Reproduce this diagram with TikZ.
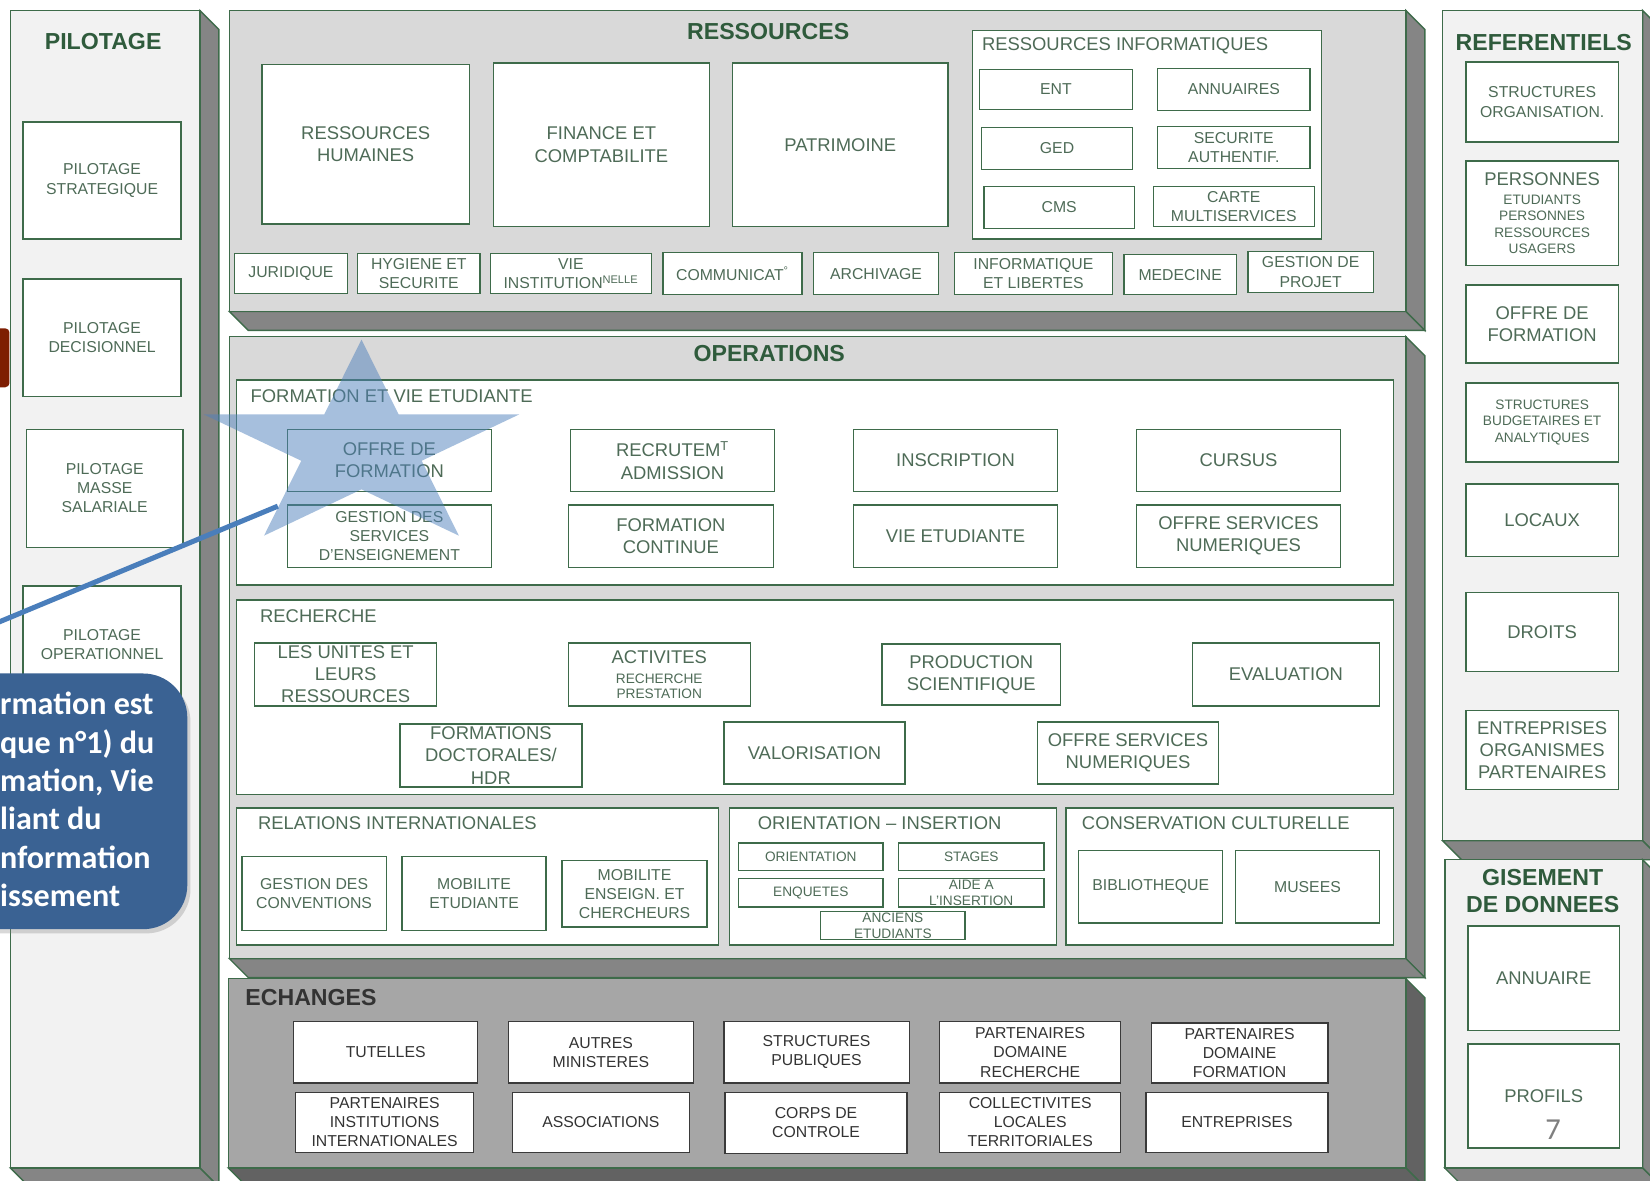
\documentclass[tikz,border=0pt]{standalone}
\usepackage{fontspec}
\setmainfont{Liberation Sans}
\newfontfamily\bullefont{Carlito}
\usetikzlibrary{fit,shapes.geometric,shadows}

\definecolor{vert}{HTML}{3E6B4A}
\definecolor{titrevert}{HTML}{2F5B3C}
\definecolor{texte}{HTML}{4E6B57}
\definecolor{gclair}{HTML}{F2F2F2}
\definecolor{gmoyen}{HTML}{D9D9D9}
\definecolor{gech}{HTML}{A6A6A6}
\definecolor{flanc}{HTML}{858585}
\definecolor{flancE}{HTML}{626262}
\definecolor{bordech}{HTML}{3A3A3A}
\definecolor{texteech}{HTML}{333333}
\definecolor{bleu}{HTML}{4F81BD}
\definecolor{bleutrait}{HTML}{4A7EBB}
\definecolor{bleubulle}{HTML}{3A6293}
\definecolor{rouge}{HTML}{7E1E02}
\definecolor{numgris}{HTML}{7F7F7F}

\newcommand{\grand}{\fontsize{17.5}{21}\selectfont}
\newcommand{\moyen}{\fontsize{15}{18.3}\selectfont}
\newcommand{\petit}{\fontsize{13}{15.6}\selectfont}
\newcommand{\gras}{\fontsize{22}{26}\selectfont\bfseries}

\tikzset{
  cadre/.style={draw=vert, line width=1.3pt},
  bloc/.style={cadre, fill=white, inner sep=0pt},
  txt/.style={text=texte, align=center, inner sep=0pt, font=\moyen},
  titre/.style={text=titrevert, align=center, inner sep=0pt, font=\gras},
  soustitre/.style={text=texte, anchor=west, inner sep=0pt, font=\grand},
  bulletxt/.style={text=white, anchor=base west, inner sep=0pt, font=\bullefont\bfseries\fontsize{30.5}{36}\selectfont},
}

\newcommand{\Plateau}[7]{%
  \filldraw[cadre,fill=#7] (#4,#3) -- ({#4+18},{#3+18}) -- ({#4+18},{#5+18}) -- (#4,#5) -- cycle;
  \filldraw[cadre,fill=#7] (#2,#5) -- ({#2+18},{#5+18}) -- ({#4+18},{#5+18}) -- (#4,#5) -- cycle;
  \node[cadre,fill=#6,inner sep=0pt,fit={(#2,#3) (#4,#5)}] (#1) {};}
\newcommand{\Bloc}[5][]{\node[bloc,fit={(#3) (#4)},label={[txt,#1]center:{#5}}] (#2) {};}
\newcommand{\BlocE}[4]{\node[bloc,draw=bordech,fit={(#2) (#3)},label={[txt,text=texteech]center:{#4}}] (#1) {};}

\begin{document}
\begin{tikzpicture}[x=1pt,y=-1pt]
        \useasboundingbox (0,0) rectangle (1568,1122);
        \clip (0,0) rectangle (1568,1122);
        \fill[white] (0,0) rectangle (1568,1122);

        \Plateau{pilot}{10}{10}{190}{1110}{gclair}{flanc}
        \Plateau{ress}{218}{10}{1336}{296}{gmoyen}{flanc}
        \Plateau{ops}{218}{320}{1336}{911}{gmoyen}{flanc}
        \Plateau{echg}{217}{930}{1336}{1110}{gech}{flancE}
        \Plateau{refs}{1371}{10}{1561}{799}{gclair}{flanc}
        \Plateau{gis}{1373}{817}{1561}{1110}{gclair}{flanc}

        % pilotage
        \node[titre] (tpilot) at (98,39) {PILOTAGE};
        \Bloc{strat}{22,116}{172,227}{PILOTAGE\\STRATEGIQUE}
        \Bloc{decis}{22,265}{172,377}{PILOTAGE\\DECISIONNEL}
        \Bloc{masse}{25,408}{174,520}{PILOTAGE\\MASSE\\SALARIALE}
        \Bloc{opera}{22,557}{172,668}{PILOTAGE\\OPERATIONNEL}

        % ressources
        \node[titre] (tress) at (730,30) {RESSOURCES};
        \Bloc[font=\grand]{rh}{249,61}{446,213}{RESSOURCES\\HUMAINES}
        \Bloc[font=\grand]{fin}{469,60}{674,215}{FINANCE ET\\COMPTABILITE}
        \Bloc[font=\grand]{pat}{696,60}{901,215}{PATRIMOINE}
        \node[bloc,fit={(924,29) (1256,227)}] (rinf) {};
        \node[soustitre] (trinf) at (933,44) {RESSOURCES INFORMATIQUES};
        \Bloc{ent}{931,66}{1076,104}{ENT}
        \Bloc{annu}{1100,65}{1245,105}{ANNUAIRES}
        \Bloc{ged}{933,121}{1076,161}{GED}
        \Bloc{secu}{1100,120}{1245,160}{SECURITE\\AUTHENTIF.}
        \Bloc{cms}{935,177}{1078,217}{CMS}
        \Bloc{carte}{1096,177}{1249,215}{CARTE\\MULTISERVICES}
        \Bloc{jur}{223,241}{330,279}{JURIDIQUE}
        \Bloc{hyg}{340,241}{456,279}{HYGIENE ET\\SECURITE}
        \Bloc{vinst}{466,241}{619,279}{VIE\\INSTITUTION\textsuperscript{NELLE}}
        \Bloc{comm}{630,240}{762,280}{COMMUNICAT\textsuperscript{°}}
        \Bloc{arch}{773,240}{892,280}{ARCHIVAGE}
        \Bloc{infl}{907,240}{1057,280}{INFORMATIQUE\\ET LIBERTES}
        \Bloc{med}{1068,242}{1175,280}{MEDECINE}
        \Bloc{proj}{1186,239}{1305,278}{GESTION DE\\PROJET}

        % operations
        \node[titre] (tops) at (731,336) {OPERATIONS};
        \node[bloc,fit={(225,361) (1324,556)}] (fve) {};
        \node[soustitre] (tfve) at (238,376) {FORMATION ET VIE ETUDIANTE};
        \Bloc[font=\grand]{offre}{273,408}{467,467}{OFFRE DE\\FORMATION}
        \Bloc[font=\grand]{recr}{542,408}{736,467}{RECRUTEM\textsuperscript{T}\\ADMISSION}
        \Bloc[font=\grand]{insc}{811,408}{1005,467}{INSCRIPTION}
        \Bloc[font=\grand]{cursus}{1080,408}{1274,467}{CURSUS}
        \Bloc{gss}{273,480}{467,539}{GESTION DES\\SERVICES\\D'ENSEIGNEMENT}
        \Bloc[font=\grand]{fcont}{540,480}{735,539}{FORMATION\\CONTINUE}
        \Bloc[font=\grand]{viee}{811,480}{1005,539}{VIE ETUDIANTE}
        \Bloc[font=\grand]{osn}{1080,480}{1274,539}{OFFRE SERVICES\\NUMERIQUES}

        \node[bloc,fit={(225,570) (1324,755)}] (rech) {};
        \node[soustitre] (trech) at (247,586) {RECHERCHE};
        \Bloc[font=\grand]{unites}{242,611}{415,671}{LES UNITES ET\\LEURS\\RESSOURCES}
        \Bloc[font=\grand]{activ}{540,611}{713,671}{ACTIVITES\\[-2pt]\petit RECHERCHE\\[-6pt]\petit PRESTATION}
        \Bloc[font=\grand]{prod}{838,612}{1008,670}{PRODUCTION\\SCIENTIFIQUE}
        \Bloc[font=\grand]{evalu}{1133,611}{1311,671}{EVALUATION}
        \Bloc[font=\grand]{fdoc}{380,688}{553,748}{FORMATIONS\\DOCTORALES/\\HDR}
        \Bloc[font=\grand]{valo}{688,686}{860,745}{VALORISATION}
        \Bloc[font=\grand]{osnr}{986,686}{1158,745}{OFFRE SERVICES\\NUMERIQUES}

        \node[bloc,fit={(225,768) (683,898)}] (relint) {};
        \node[soustitre] (trelint) at (245,782) {RELATIONS INTERNATIONALES};
        \Bloc{conv}{230,814}{367,884}{GESTION DES\\CONVENTIONS}
        \Bloc{mobe}{382,814}{519,884}{MOBILITE\\ETUDIANTE}
        \Bloc{mobc}{534,818}{672,881}{MOBILITE\\ENSEIGN. ET\\CHERCHEURS}

        \node[bloc,fit={(693,768) (1004,898)}] (orins) {};
        \node[soustitre] (torins) at (720,782) {ORIENTATION – INSERTION};
        \Bloc[font=\petit]{orient}{702,801}{839,827}{ORIENTATION}
        \Bloc[font=\petit]{stages}{854,801}{992,827}{STAGES}
        \Bloc[font=\petit]{enq}{702,835}{839,862}{ENQUETES}
        \Bloc[font=\petit]{aide}{854,835}{992,862}{AIDE A\\L'INSERTION}
        \Bloc[font=\petit]{anciens}{780,866}{917,893}{ANCIENS\\ETUDIANTS}

        \node[bloc,fit={(1013,768) (1324,898)}] (cons) {};
        \node[soustitre] (tcons) at (1028,782) {CONSERVATION CULTURELLE};
        \Bloc{biblio}{1025,808}{1162,877}{BIBLIOTHEQUE}
        \Bloc{musees}{1174,808}{1311,877}{MUSEES}

        % echanges
        \node[titre,text=texteech,anchor=west] (techg) at (233,948) {ECHANGES};
        \BlocE{tut}{279,971}{454,1029}{TUTELLES}
        \BlocE{autres}{483,971}{659,1029}{AUTRES\\MINISTERES}
        \BlocE{spub}{688,971}{864,1029}{STRUCTURES\\PUBLIQUES}
        \BlocE{pdr}{893,971}{1065,1029}{PARTENAIRES\\DOMAINE\\RECHERCHE}
        \BlocE{pdf}{1094,972}{1262,1029}{PARTENAIRES\\DOMAINE\\FORMATION}
        \BlocE{pii}{281,1038}{450,1095}{PARTENAIRES\\INSTITUTIONS\\INTERNATIONALES}
        \BlocE{assoc}{487,1038}{655,1095}{ASSOCIATIONS}
        \BlocE{corps}{689,1038}{862,1096}{CORPS DE\\CONTROLE}
        \BlocE{coll}{893,1038}{1065,1095}{COLLECTIVITES\\LOCALES\\TERRITORIALES}
        \BlocE{entr}{1089,1038}{1262,1095}{ENTREPRISES}

        % referentiels
        \node[titre] (trefs) at (1467,40) {REFERENTIELS};
        \Bloc{sorg}{1393,59}{1538,135}{STRUCTURES\\ORGANISATION.}
        \Bloc[font=\grand]{pers}{1393,153}{1538,252}{PERSONNES\\[-3pt]\petit ETUDIANTS\\[-5.3pt]\petit PERSONNES\\[-5.3pt]\petit RESSOURCES\\[-5.3pt]\petit USAGERS}
        \Bloc[font=\grand]{offref}{1393,271}{1538,345}{OFFRE DE\\FORMATION}
        \Bloc[font=\petit]{sbud}{1393,364}{1538,439}{STRUCTURES\\BUDGETAIRES ET\\ANALYTIQUES}
        \Bloc[font=\grand]{locaux}{1393,460}{1538,529}{LOCAUX}
        \Bloc[font=\grand]{droits}{1393,563}{1538,638}{DROITS}
        \Bloc[font=\grand]{entref}{1393,675}{1538,750}{ENTREPRISES\\ORGANISMES\\PARTENAIRES}

        \node[titre] (tgis) at (1466,847) {GISEMENT\\DE DONNEES};
        \Bloc[font=\grand]{annuaire}{1395,880}{1539,979}{ANNUAIRE}
        \Bloc[font=\grand]{profils}{1395,992}{1539,1091}{PROFILS}

        % surcouche
        \node[star,star points=5,star point ratio=2.618,minimum size=206pt,xscale=1.529,inner sep=0pt,fill=bleu,fill opacity=0.5] (etoile) at (343.5,425.7) {};
        \coordinate (pointe) at (264,481);
        \coordinate (fuite) at (-20,599);
        \draw[bleutrait,line width=4.8pt] (pointe) -- (fuite);
        \node[fill=bleubulle,rounded corners=42pt,inner sep=0pt,fit={(-60,640) (178,883)},drop shadow={opacity=0.3,shadow xshift=3pt,shadow yshift=-4pt}] (bulle) {};
        \foreach \ligne [count=\i] in {rmation est, que n°1) du, {mation, Vie}, liant du, nformation, issement}
          \node[bulletxt] (ligne\i) at (0,{643+36.4*\i}) {\ligne};
        \node[fill=rouge,rounded corners=4pt,inner sep=0pt,fit={(-10,312) (9,368)}] (marque) {};
        \node[text=numgris,inner sep=0pt,font=\bullefont\fontsize{29}{30}\selectfont] (num) at (1476,1074) {7};
\end{tikzpicture}
\end{document}
